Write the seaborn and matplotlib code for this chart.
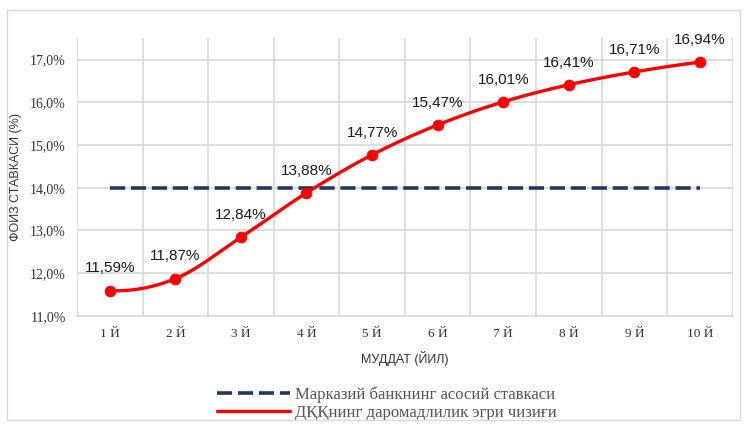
import numpy as np
import pandas as pd
import matplotlib
matplotlib.use("Agg")
import matplotlib.pyplot as plt
from matplotlib.ticker import FuncFormatter, MultipleLocator
from matplotlib.patches import Rectangle
import seaborn as sns

# data
terms = ["1 Й", "2 Й", "3 Й", "4 Й", "5 Й", "6 Й", "7 Й", "8 Й", "9 Й", "10 Й"]
yield_curve = [11.59, 11.87, 12.84, 13.88, 14.77, 15.47, 16.01, 16.41, 16.71, 16.94]
base_rate = [14.0] * 10

label_curve = "ДҚҚнинг даромадлилик эгри чизиғи"
label_base = "Марказий банкнинг асосий ставкаси"

sns.set_theme(style="white")
plt.rcParams["font.family"] = ["Liberation Serif", "DejaVu Sans"]

df = pd.DataFrame({"x": np.arange(len(terms)), "term": terms,
                   "curve": yield_curve, "base": base_rate})


def smooth(x, y, n=30):
    # hermite smoothing similar to office "smoothed line"
    x = np.asarray(x, float)
    y = np.asarray(y, float)
    m = np.zeros_like(y)
    m[1:-1] = (y[2:] - y[:-2]) / 2
    m[0] = 2 * (y[1] - y[0]) - m[1]
    m[-1] = 2 * (y[-1] - y[-2]) - m[-2]
    xs, ys = [], []
    for i in range(len(x) - 1):
        t = np.linspace(0, 1, n)
        h00 = 2 * t**3 - 3 * t**2 + 1
        h10 = t**3 - 2 * t**2 + t
        h01 = -2 * t**3 + 3 * t**2
        h11 = t**3 - t**2
        xs.append(x[i] + t * (x[i + 1] - x[i]))
        ys.append(h00 * y[i] + h10 * m[i] + h01 * y[i + 1] + h11 * m[i + 1])
    return np.concatenate(xs), np.concatenate(ys)


fig = plt.figure(figsize=(7.47, 4.24), dpi=100)
ax = fig.add_axes([0.103, 0.255, 0.878, 0.655])

# vertical gridlines between categories, horizontal at ticks
for b in np.arange(-0.5, len(terms), 1.0):
    ax.axvline(b, color="#d9d9d9", lw=1.2, zorder=0)
ax.yaxis.grid(True, color="#d9d9d9", lw=1.2)
ax.set_axisbelow(True)

sns.lineplot(data=df, x="x", y="base", ax=ax, color="#1f3864", lw=2.6,
             label=label_base, zorder=3)
ax.lines[-1].set_dashes([4.2, 1.6])

sx, sy = smooth(df["x"], df["curve"])
ax.plot(sx, sy, color="#ff0000", lw=2.4, label=label_curve, zorder=4)
sns.scatterplot(data=df, x="x", y="curve", ax=ax, color="#ff0000", s=60,
                edgecolor="#ff0000", zorder=5, legend=False)

for xi, v in zip(df["x"], df["curve"]):
    ax.annotate(f"{v:.2f}%".replace(".", ","), (xi, v), xytext=(0, 16),
                textcoords="offset points", ha="center", va="center",
                fontsize=11, family=["Liberation Sans", "DejaVu Sans"],
                color="#1a1a1a")

ax.set_xlim(-0.5, len(terms) - 0.5)
ax.set_ylim(11, 17.5)
ax.yaxis.set_major_locator(MultipleLocator(1))
ax.yaxis.set_major_formatter(FuncFormatter(lambda v, p: f"{v:.1f}%".replace(".", ",")))
ax.set_xticks(df["x"])
ax.set_xticklabels(terms)
ax.tick_params(axis="y", labelsize=10, colors="#333333", length=0, pad=8)
ax.tick_params(axis="x", labelsize=9.5, colors="#333333", length=0, pad=9)

for s in ["top", "right", "left"]:
    ax.spines[s].set_visible(False)
ax.spines["bottom"].set_color("#d9d9d9")
ax.spines["bottom"].set_linewidth(1.2)

ax.set_xlabel("МУДДАТ (ЙИЛ)", fontsize=9, color="#333333", labelpad=8,
              family=["Liberation Sans", "DejaVu Sans"])
ax.set_ylabel("ФОИЗ СТАВКАСИ (%)", fontsize=9, color="#333333", labelpad=6,
              family=["Liberation Sans", "DejaVu Sans"])

ax.legend(loc="upper center", bbox_to_anchor=(0.473, -0.2), frameon=False,
          fontsize=12, handlelength=4.4, labelspacing=0.1, handletextpad=0.3,
          labelcolor="#555555")

fig.patches.append(Rectangle((0.009, 0.009), 0.982, 0.968, transform=fig.transFigure,
                             fill=False, edgecolor="#d9d9d9", lw=1))

fig.savefig("out.png", dpi=100)
